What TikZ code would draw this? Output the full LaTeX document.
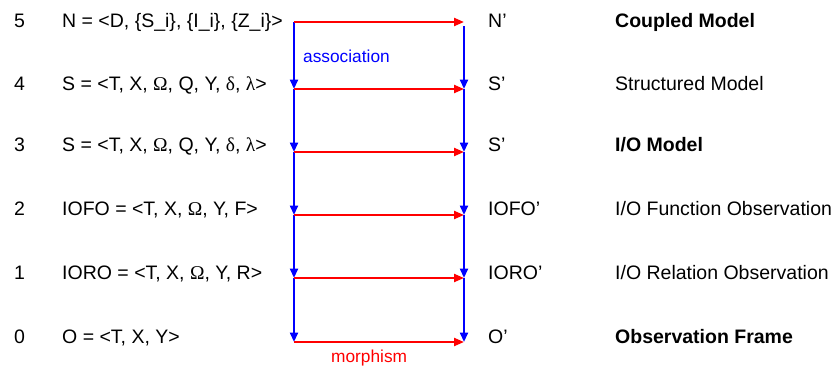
\documentclass[tikz,border=0pt]{standalone}
\usepackage{fontspec}
\setmainfont{Liberation Sans}
\newfontfamily\grk{Liberation Serif}
\usetikzlibrary{arrows.meta}
\definecolor{assocblue}{RGB}{0,0,255}
\definecolor{morphred}{RGB}{255,0,0}
\begin{document}
\begin{tikzpicture}[x=1pt,y=-1pt,
  txt/.style={anchor=base west,inner sep=0pt,font=\fontsize{19.5}{22}\selectfont},
  small/.style={anchor=base west,inner sep=0pt,font=\fontsize{17.3}{20}\selectfont},
  assoc/.style={draw=assocblue,line width=2.2pt,-{Triangle[length=9.5pt,width=8pt]}},
  morph/.style={draw=morphred,line width=2.2pt,-{Triangle[length=10pt,width=8pt]}}]
\fill[white] (0,0) rectangle (838,367);
\useasboundingbox (0,0) rectangle (838,367);

% coordinates of the two columns
\coordinate (L5) at (294,22);  \coordinate (R5) at (464,22); \coordinate (R5b) at (464,26);
\coordinate (L4) at (294,89);  \coordinate (R4) at (464,89);
\coordinate (L3) at (294,152); \coordinate (R3) at (464,152);
\coordinate (L2) at (294,215); \coordinate (R2) at (464,215);
\coordinate (L1) at (294,278); \coordinate (R1) at (464,278);
\coordinate (L0) at (294,342); \coordinate (R0) at (464,342);

% vertical association arrows
\draw[assoc] (L5) -- (L4);
\draw[assoc] (L4) -- (L3);
\draw[assoc] (L3) -- (L2);
\draw[assoc] (L2) -- (L1);
\draw[assoc] (L1) -- (L0);
\draw[assoc] (R5b) -- (R4);
\draw[assoc] (R4) -- (R3);
\draw[assoc] (R3) -- (R2);
\draw[assoc] (R2) -- (R1);
\draw[assoc] (R1) -- (R0);

% horizontal morphism arrows
\draw[morph] (L5) -- (R5);
\draw[morph] (L4) -- (R4);
\draw[morph] (L3) -- (R3);
\draw[morph] (L2) -- (R2);
\draw[morph] (L1) -- (R1);
\draw[morph] (L0) -- (R0);

% level numbers
\node[txt] (n5) at (14,27)  {5};
\node[txt] (n4) at (14,90)  {4};
\node[txt] (n3) at (14,151) {3};
\node[txt] (n2) at (14,215) {2};
\node[txt] (n1) at (14,279) {1};
\node[txt] (n0) at (14,343) {0};

% left formulas
\node[txt] (f5) at (62,27)  {N = <D, \{S\_i\}, \{I\_i\}, \{Z\_i\}>};
\node[txt] (f4) at (62,90)  {S = <T, X, {\grk Ω}, Q, Y, {\grk δ}, {\grk λ}>};
\node[txt] (f3) at (62,151) {S = <T, X, {\grk Ω}, Q, Y, {\grk δ}, {\grk λ}>};
\node[txt] (f2) at (62,215) {IOFO = <T, X, {\grk Ω}, Y, F>};
\node[txt] (f1) at (62,279) {IORO = <T, X, {\grk Ω}, Y, R>};
\node[txt] (f0) at (62,343) {O = <T, X, Y>};

% right primes
\node[txt] (p5) at (488,27)  {N’};
\node[txt] (p4) at (488,90)  {S’};
\node[txt] (p3) at (488,151) {S’};
\node[txt] (p2) at (488,215) {IOFO’};
\node[txt] (p1) at (488,279) {IORO’};
\node[txt] (p0) at (488,343) {O’};

% level names
\node[txt] (d5) at (615,27)  {\textbf{Coupled Model}};
\node[txt] (d4) at (615,90)  {Structured Model};
\node[txt] (d3) at (615,151) {\textbf{I/O Model}};
\node[txt] (d2) at (615,215) {I/O Function Observation};
\node[txt] (d1) at (615,279) {I/O Relation Observation};
\node[txt] (d0) at (615,343) {\textbf{Observation Frame}};

% arrow labels
\node[small,text=assocblue] (assoclbl) at (303,62) {association};
\node[small,text=morphred] (morphlbl) at (331,362) {morphism};
\end{tikzpicture}
\end{document}
